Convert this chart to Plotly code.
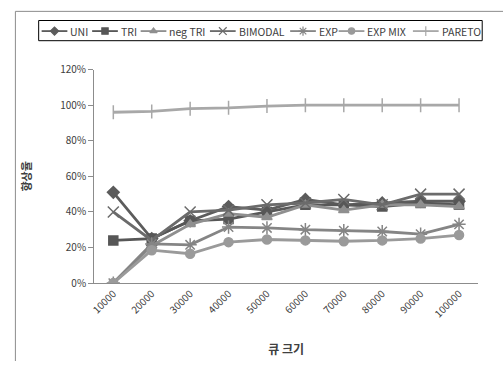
import plotly.graph_objects as go

categories = ["10000", "20000", "30000", "40000", "50000",
              "60000", "70000", "80000", "90000", "100000"]
uni =     [0.51, 0.25, 0.35, 0.43, 0.41, 0.47, 0.44, 0.45, 0.46, 0.46]
tri =     [0.24, 0.25, 0.35, 0.36, 0.40, 0.44, 0.44, 0.43, 0.45, 0.44]
neg_tri = [0.00, 0.21, 0.33, 0.39, 0.37, 0.44, 0.41, 0.44, 0.44, 0.43]
bimodal = [0.40, 0.24, 0.40, 0.41, 0.44, 0.45, 0.47, 0.44, 0.50, 0.50]
exp_ =    [0.00, 0.22, 0.215, 0.315, 0.31, 0.30, 0.295, 0.29, 0.275, 0.33]
exp_mix = [0.00, 0.185, 0.165, 0.23, 0.245, 0.24, 0.235, 0.24, 0.25, 0.27]
pareto =  [0.96, 0.965, 0.98, 0.985, 0.995, 1.0, 1.0, 1.0, 1.0, 1.0]

series_names = ["UNI", "TRI", "neg TRI", "BIMODAL", "EXP", "EXP MIX", "PARETO"]
series_values = [uni, tri, neg_tri, bimodal, exp_, exp_mix, pareto]

# styles
colors = ["#5c5c5c", "#575757", "#8f8f8f", "#6b6b6b", "#858585", "#9a9a9a", "#a8a8a8"]
symbols = ["diamond", "square", "triangle-up", "x-thin-open", "asterisk-open", "circle", "line-ns-open"]
sizes = [9, 9, 9, 11, 11, 9, 10]

W, H = 503, 367
# plot area in page pixels
PX0, PX1, PY0, PY1 = 90, 478, 64, 286
# legend layout (page pixels)
LEG_BOX = (34, 13, 482, 34)
LEG_Y = 24
leg_starts = [37, 88, 137, 207, 288, 337, 412]
LEG_LINE = 26

fig = go.Figure()
for name, vals, color, sym, size in zip(series_names, series_values, colors, symbols, sizes):
    fig.add_trace(go.Scatter(
        x=categories, y=vals, name=name, mode="lines+markers",
        line=dict(color=color, width=2.8),
        marker=dict(symbol=sym, size=size, color=color,
                    line=dict(color=color, width=1.5)),
        xaxis="x", yaxis="y", showlegend=False,
    ))

# legend drawn on a pixel-space overlay axis
annotations = []
for name, color, sym, size, x0 in zip(series_names, colors, symbols, sizes, leg_starts):
    fig.add_trace(go.Scatter(
        x=[x0, x0 + LEG_LINE], y=[LEG_Y, LEG_Y], mode="lines",
        line=dict(color=color, width=1.8), xaxis="x2", yaxis="y2",
        showlegend=False, hoverinfo="skip"))
    fig.add_trace(go.Scatter(
        x=[x0 + LEG_LINE / 2], y=[LEG_Y], mode="markers",
        marker=dict(symbol=sym, size=size * 0.7, color=color,
                    line=dict(color=color, width=1.2)),
        xaxis="x2", yaxis="y2", showlegend=False, hoverinfo="skip"))
    annotations.append(dict(
        x=x0 + LEG_LINE + 1, y=LEG_Y, xref="x2", yref="y2", text=name,
        showarrow=False, xanchor="left", yanchor="middle",
        font=dict(size=10.5, color="#404040")))

font_family = "Noto Sans CJK KR, Noto Sans, sans-serif"
fig.update_layout(
    width=W, height=H,
    margin=dict(l=0, r=0, t=0, b=0),
    paper_bgcolor="white", plot_bgcolor="rgba(0,0,0,0)",
    font=dict(family=font_family, size=10, color="#404040"),
    showlegend=False,
    xaxis=dict(type="category", range=[-0.5, 9.5], tickangle=-45,
               domain=[PX0 / W, PX1 / W], anchor="y",
               showline=True, linecolor="#8c8c8c", linewidth=1,
               ticks="", showgrid=False, tickfont=dict(size=10, color="#404040"),
               title=dict(text="큐 크기", font=dict(size=12, color="#404040", weight="bold"),
                          standoff=26)),
    yaxis=dict(range=[0, 1.2], dtick=0.2, tickformat=".0%",
               domain=[(H - PY1) / H, (H - PY0) / H], anchor="x",
               showline=True, linecolor="#8c8c8c", linewidth=1,
               ticks="outside", ticklen=5, tickcolor="#8c8c8c",
               showgrid=False, zeroline=False, tickfont=dict(size=10, color="#404040"),
               title=dict(text="향상율", font=dict(size=11, color="#404040", weight="bold"),
                          standoff=26)),
    xaxis2=dict(domain=[0, 1], range=[0, W], visible=False, anchor="y2", fixedrange=True),
    yaxis2=dict(domain=[0, 1], range=[H, 0], visible=False, anchor="x2", fixedrange=True),
    annotations=annotations,
)

# outer chart frame (top and left edges) and legend box
fig.add_shape(type="line", xref="x2", yref="y2", x0=10.5, x1=W, y0=3.5, y1=3.5,
              line=dict(color="#8c8c8c", width=1))
fig.add_shape(type="line", xref="x2", yref="y2", x0=10.5, x1=10.5, y0=3.5, y1=H,
              line=dict(color="#8c8c8c", width=1))
fig.add_shape(type="rect", xref="x2", yref="y2",
              x0=LEG_BOX[0], y0=LEG_BOX[1], x1=LEG_BOX[2], y1=LEG_BOX[3],
              line=dict(color="#000000", width=1))

fig.write_html("out.html")
